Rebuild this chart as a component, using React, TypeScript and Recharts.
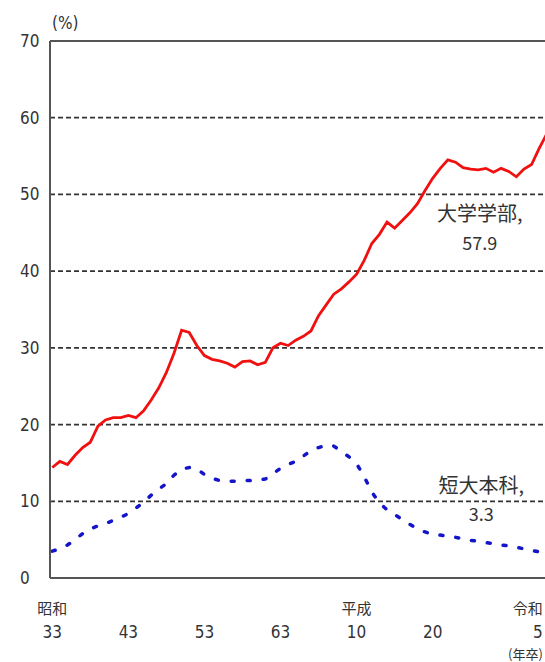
import React from 'react';
import {
  LineChart,
  Line,
  XAxis,
  YAxis,
  CartesianGrid,
  ReferenceLine,
  ReferenceDot,
} from 'recharts';

// 卒業年（西暦）
const years = [
  1958, 1959, 1960, 1961, 1962, 1963, 1964, 1965, 1966, 1967,
  1968, 1969, 1970, 1971, 1972, 1973, 1974, 1975, 1976, 1977,
  1978, 1979, 1980, 1981, 1982, 1983, 1984, 1985, 1986, 1987,
  1988, 1989, 1990, 1991, 1992, 1993, 1994, 1995, 1996, 1997,
  1998, 1999, 2000, 2001, 2002, 2003, 2004, 2005, 2006, 2007,
  2008, 2009, 2010, 2011, 2012, 2013, 2014, 2015, 2016, 2017,
  2018, 2019, 2020, 2021, 2022, 2023,
];

// 大学学部 (%)
const daigaku = [
  14.4, 15.2, 14.8, 16.0, 17.0, 17.7, 19.8, 20.6, 20.9, 20.9,
  21.2, 20.9, 21.8, 23.2, 24.8, 26.8, 29.3, 32.3, 32.0, 30.3,
  29.0, 28.5, 28.3, 28.0, 27.5, 28.2, 28.3, 27.8, 28.1, 30.0,
  30.6, 30.3, 31.0, 31.5, 32.2, 34.2, 35.6, 37.0, 37.7, 38.6,
  39.6, 41.4, 43.6, 44.8, 46.4, 45.6, 46.6, 47.6, 48.8, 50.5,
  52.1, 53.4, 54.5, 54.2, 53.5, 53.3, 53.2, 53.4, 52.9, 53.4,
  53.0, 52.3, 53.3, 53.9, 56.0, 57.9,
];

// 短大本科 (%)
const tandai = [
  3.5, 3.8, 4.3, 5.0, 5.8, 6.4, 6.8, 7.1, 7.5, 7.9,
  8.4, 9.1, 9.9, 10.8, 11.6, 12.3, 13.4, 14.2, 14.4, 14.2,
  13.5, 13.0, 12.7, 12.6, 12.6, 12.7, 12.7, 12.8, 12.9, 13.6,
  14.3, 14.8, 15.2, 15.9, 16.6, 17.0, 17.3, 17.2, 16.5, 15.8,
  14.9, 13.2, 11.2, 9.8, 8.9, 8.3, 7.6, 7.0, 6.4, 6.0,
  5.7, 5.6, 5.4, 5.3, 5.1, 4.9, 4.8, 4.6, 4.5, 4.3,
  4.2, 4.0, 3.8, 3.6, 3.4, 3.3,
];

// 目盛り
const xTicks = [1958, 1968, 1978, 1988, 1998, 2008, 2023];
const xTickEra = ['昭和', '', '', '', '平成', '', '令和'];
const xTickNum = ['33', '43', '53', '63', '10', '20', '5'];
const yTicks = [0, 10, 20, 30, 40, 50, 60, 70];

// 系列名ラベル
const labelNames = ['大学学部,', '短大本科,'];
const labelValues = ['57.9', '3.3'];
const labelX = [2014.2, 2014.4];
const labelY = [47.4, 12.0];

const data = years.map((y, i) => ({ year: y, daigaku: daigaku[i], tandai: tandai[i] }));

const NUM_FONT = "'Liberation Sans Narrow', 'DejaVu Sans Condensed', 'Noto Sans CJK JP', sans-serif";
const JP_FONT = "'Noto Sans CJK JP', sans-serif";

const XTick = (props: any) => {
  const { x, y, index } = props;
  // 右端の目盛りは画面端で切れないよう右寄せ
  const last = index === xTicks.length - 1;
  const tx = last ? x - 4 : x;
  const anchor = last ? 'end' : 'middle';
  return (
    <g>
      {xTickEra[index] && (
        <text x={tx} y={y + 28} textAnchor={anchor} fontFamily={JP_FONT} fontSize={15} fill="#333">
          {xTickEra[index]}
        </text>
      )}
      <text x={tx} y={y + 52} textAnchor={anchor} fontFamily={NUM_FONT} fontSize={17} fill="#333">
        {xTickNum[index]}
      </text>
      {last && (
        <text x={tx} y={y + 73} textAnchor="end" fontFamily={JP_FONT} fontSize={13} fill="#333">
          (年卒)
        </text>
      )}
    </g>
  );
};

const YTick = (props: any) => {
  const { y, payload } = props;
  return (
    <text x={20} y={y} dy="0.35em" textAnchor="start" fontFamily={NUM_FONT} fontSize={17} fill="#333">
      {payload.value}
    </text>
  );
};

const SeriesLabel = (props: any) => {
  const { cx, cy, name, value } = props;
  if (cx == null || cy == null) return null;
  return (
    <g>
      <text x={cx} y={cy} dy="0.35em" textAnchor="middle" fontFamily={JP_FONT} fontSize={20} fill="#333">
        {name}
      </text>
      <text x={cx} y={cy + 29} dy="0.35em" textAnchor="middle" fontFamily={JP_FONT} fontSize={18} fill="#333">
        {value}
      </text>
    </g>
  );
};

export default function App() {
  return (
    <div style={{ position: 'absolute', left: 0, top: 0, width: 545, height: 662, overflow: 'hidden', background: '#fff' }}>
      <LineChart width={562} height={662} data={data} margin={{ top: 41, right: 0, left: 0, bottom: 0 }}>
        <CartesianGrid vertical={false} stroke="#333" strokeWidth={1.8} strokeDasharray="5 3" />
        <XAxis
          dataKey="year"
          type="number"
          domain={[1957.7, 2025]}
          allowDataOverflow
          ticks={xTicks}
          tick={<XTick />}
          tickLine={false}
          axisLine={{ stroke: '#555', strokeWidth: 2 }}
          height={84}
          interval={0}
        />
        <YAxis
          type="number"
          domain={[0, 70]}
          ticks={yTicks}
          tick={<YTick />}
          tickLine={false}
          axisLine={{ stroke: '#555', strokeWidth: 2 }}
          width={50}
          interval={0}
          label={({ viewBox }: any) => (
            <text x={viewBox.x + viewBox.width + 2} y={viewBox.y - 12} fontFamily={NUM_FONT} fontSize={17} fill="#333">
              (%)
            </text>
          )}
        />
        <ReferenceLine y={70} stroke="#555" strokeWidth={2} />
        <Line
          dataKey="tandai"
          stroke="#1414c8"
          strokeWidth={3.5}
          strokeDasharray="3 13"
          strokeLinecap="round"
          dot={false}
          isAnimationActive={false}
        />
        <Line
          dataKey="daigaku"
          stroke="#f01010"
          strokeWidth={2.8}
          dot={false}
          isAnimationActive={false}
        />
        {labelNames.map((n, i) => (
          <ReferenceDot
            key={n}
            x={labelX[i]}
            y={labelY[i]}
            r={0}
            shape={(p: any) => <SeriesLabel {...p} name={n} value={labelValues[i]} />}
          />
        ))}
      </LineChart>
    </div>
  );
}
